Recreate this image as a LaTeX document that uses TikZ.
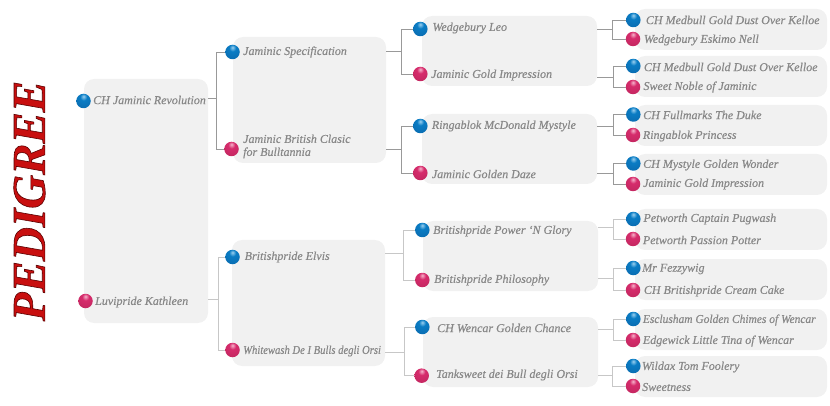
\documentclass[tikz,border=0pt]{standalone}
\usepackage{fontspec}
\setmainfont{Liberation Serif}
\newfontface\dogfont{Liberation Serif Italic}[FakeBold=0.35]
\usetikzlibrary{positioning}
\definecolor{boxgray}{HTML}{F1F1F1}
\definecolor{textgray}{HTML}{888888}
\definecolor{titlered}{HTML}{C80F0F}
\definecolor{siretop}{HTML}{9AD0F0}
\definecolor{siremid}{HTML}{0A7CC4}
\definecolor{sirelow}{HTML}{0A6AAE}
\definecolor{siredge}{HTML}{0C5A96}
\definecolor{damtop}{HTML}{F6B4CC}
\definecolor{dammid}{HTML}{D62C6C}
\definecolor{damlow}{HTML}{C0265E}
\definecolor{damedge}{HTML}{8C1E4C}
\pgfdeclareradialshading{sireball}{\pgfpoint{0bp}{16bp}}{
    color(0bp)=(siretop); color(12bp)=(siremid); color(40bp)=(sirelow);
    color(62bp)=(siredge); color(100bp)=(siredge)}
\pgfdeclareradialshading{damball}{\pgfpoint{0bp}{16bp}}{
    color(0bp)=(damtop); color(12bp)=(dammid); color(40bp)=(damlow);
    color(62bp)=(damedge); color(100bp)=(damedge)}
\tikzset{
    family/.style={fill=boxgray, rounded corners=10pt, inner sep=0pt},
    sire/.style={circle, inner sep=0pt, minimum size=14.5pt, shading=sireball},
    dam/.style={circle, inner sep=0pt, minimum size=14.5pt, shading=damball},
    dogname/.style={anchor=west, inner sep=0pt, text=textgray, font=\fontsize{12}{13}\selectfont\dogfont, align=left},
    darklink/.style={draw=black!40, line width=0.9pt},
    palelink/.style={draw=black!22, line width=0.9pt},
}
% Draws one rounded panel from its corners
\newcommand{\panel}[5]{\node[family, minimum width=#4pt-#2pt, minimum height=#5pt-#3pt] (#1) at ({(#2+#4)/2},{(#3+#5)/2}) {};}
% Stem out of a panel, then a fork to both parents
\newcommand{\fork}[6][darklink]{
    \coordinate (#3) at (#4,#5);
    \draw[#1] (#2.east |- #3) -- (#3);
    \foreach \parent in {#6} {\draw[#1] (#3) |- (\parent.west);}
}
\begin{document}
\begin{tikzpicture}[x=1pt,y=-1pt]
\useasboundingbox (0,0) rectangle (830,406);
% Panels
\panel{p}{84}{79}{208}{323}
\panel{s}{233}{37}{386}{163}
\panel{d}{232}{240}{385}{366}
\panel{ss}{422}{16}{597}{86}
\panel{sd}{422}{114}{597}{184}
\panel{ds}{423}{221}{598}{291}
\panel{dd}{423}{317}{598}{387}
\foreach \nm/\top/\bot in {sss/9/50,ssd/56/97,sds/105/146,sdd/154/195,dss/209/250,dsd/259/300,dds/309/350,ddd/356/397} {
    \panel{\nm}{635}{\top}{827}{\bot}
}
% Sires
\foreach \id/\bx/\by/\lx/\ly/\txt in {
    s/83.5/101/93/100/CH Jaminic Revolution,
    ss/232.5/52/243/52/Jaminic Specification,
    ds/232.5/257/244.5/257/Britishpride Elvis,
    sss/420.3/29/432.3/28/Wedgebury Leo,
    sds/420.3/126/431.7/126/Ringablok McDonald Mystyle,
    dss/422.3/230/433/231/Britishpride Power ‘N Glory,
    dds/422.3/327/437/328/CH Wencar Golden Chance,
    ssss/633.3/20/645.7/20/CH Medbull Gold Dust Over Kelloe,
    ssds/633.3/66/643.7/67/CH Medbull Gold Dust Over Kelloe,
    sdss/633.3/114.5/643/115/CH Fullmarks The Duke,
    sdds/633.3/163.5/643/165/CH Mystyle Golden Wonder,
    dsss/633.3/219/643.3/219/Petworth Captain Pugwash,
    dsds/633.3/268/642/269/Mr Fezzywig,
    ddss/633.3/319/642.7/320/{\scalebox{0.955}[1]{Esclusham Golden Chimes of Wencar}},
    ddds/633.3/366/641.7/367/Wildax Tom Foolery} {
    \node[sire] (b\id) at (\bx,\by) {};
    \node[dogname] (n\id) at (\lx,\ly) {\txt};
}
% Dams
\foreach \id/\bx/\by/\lx/\ly/\txt in {
    d/85.5/301/95/302/Luvipride Kathleen,
    sd/231.5/149/243/146.5/{Jaminic British Clasic\\for Bulltannia},
    dd/232.5/350/243/351/{\scalebox{0.885}[1]{Whitewash De I Bulls degli Orsi}},
    ssd/420.3/74/431/75/Jaminic Gold Impression,
    sdd/420.3/173/431.7/174/Jaminic Golden Daze,
    dsd/422.3/280/434/280/Britishpride Philosophy,
    ddd/421.7/375.7/436/375/Tanksweet dei Bull degli Orsi,
    sssd/633/39/643.7/40/Wedgebury Eskimo Nell,
    ssdd/633/87/643.3/87/Sweet Noble of Jaminic,
    sdsd/633/135/642.7/136/Ringablok Princess,
    sddd/633/184/643/184/Jaminic Gold Impression,
    dssd/633/239/642.7/240/Petworth Passion Potter,
    dsdd/633/290/643.7/291/CH Britishpride Cream Cake,
    ddsd/633/340/642.7/341/Edgewick Little Tina of Wencar,
    dddd/633/386/642/387/Sweetness} {
    \node[dam] (b\id) at (\bx,\by) {};
    \node[dogname] (n\id) at (\lx,\ly) {\txt};
}
% Connectors
\fork{p}{fs}{216.7}{98.3}{bss,bsd}
\fork[palelink]{p}{fd}{218.3}{299.7}{bds,bdd}
\fork{s}{fss}{401}{51.7}{bsss,bssd}
\fork{s}{fsd}{401.3}{149.3}{bsds,bsdd}
\fork[palelink]{d}{fds}{403.3}{253.3}{bdss,bdsd}
\fork[palelink]{d}{fdd}{404.3}{352}{bdds,bddd}
\fork{ss}{fsss}{612.3}{29.3}{bssss,bsssd}
\fork{ss}{fssd}{613.7}{77}{bssds,bssdd}
\fork{sd}{fsds}{613.3}{126.7}{bsdss,bsdsd}
\fork{sd}{fsdd}{613.3}{173}{bsdds,bsddd}
\fork[palelink]{ds}{fdss}{613.3}{227.7}{bdsss,bdssd}
\fork[palelink]{ds}{fdsd}{613.3}{278.7}{bdsds,bdsdd}
\fork[palelink]{dd}{fdds}{613.3}{329.3}{bddss,bddsd}
\fork[palelink]{dd}{fddd}{612.3}{375.3}{bddds,bdddd}
% Title
\node[rotate=90, inner sep=0pt, text=titlered, font=\fontsize{47}{47}\selectfont\bfseries\itshape] (title) at (29.5,201) {\special{pdf:literal 2 Tr 0.6 w 0.35 0 0 RG}PEDIGREE\special{pdf:literal 0 Tr}};
\end{tikzpicture}
\end{document}
